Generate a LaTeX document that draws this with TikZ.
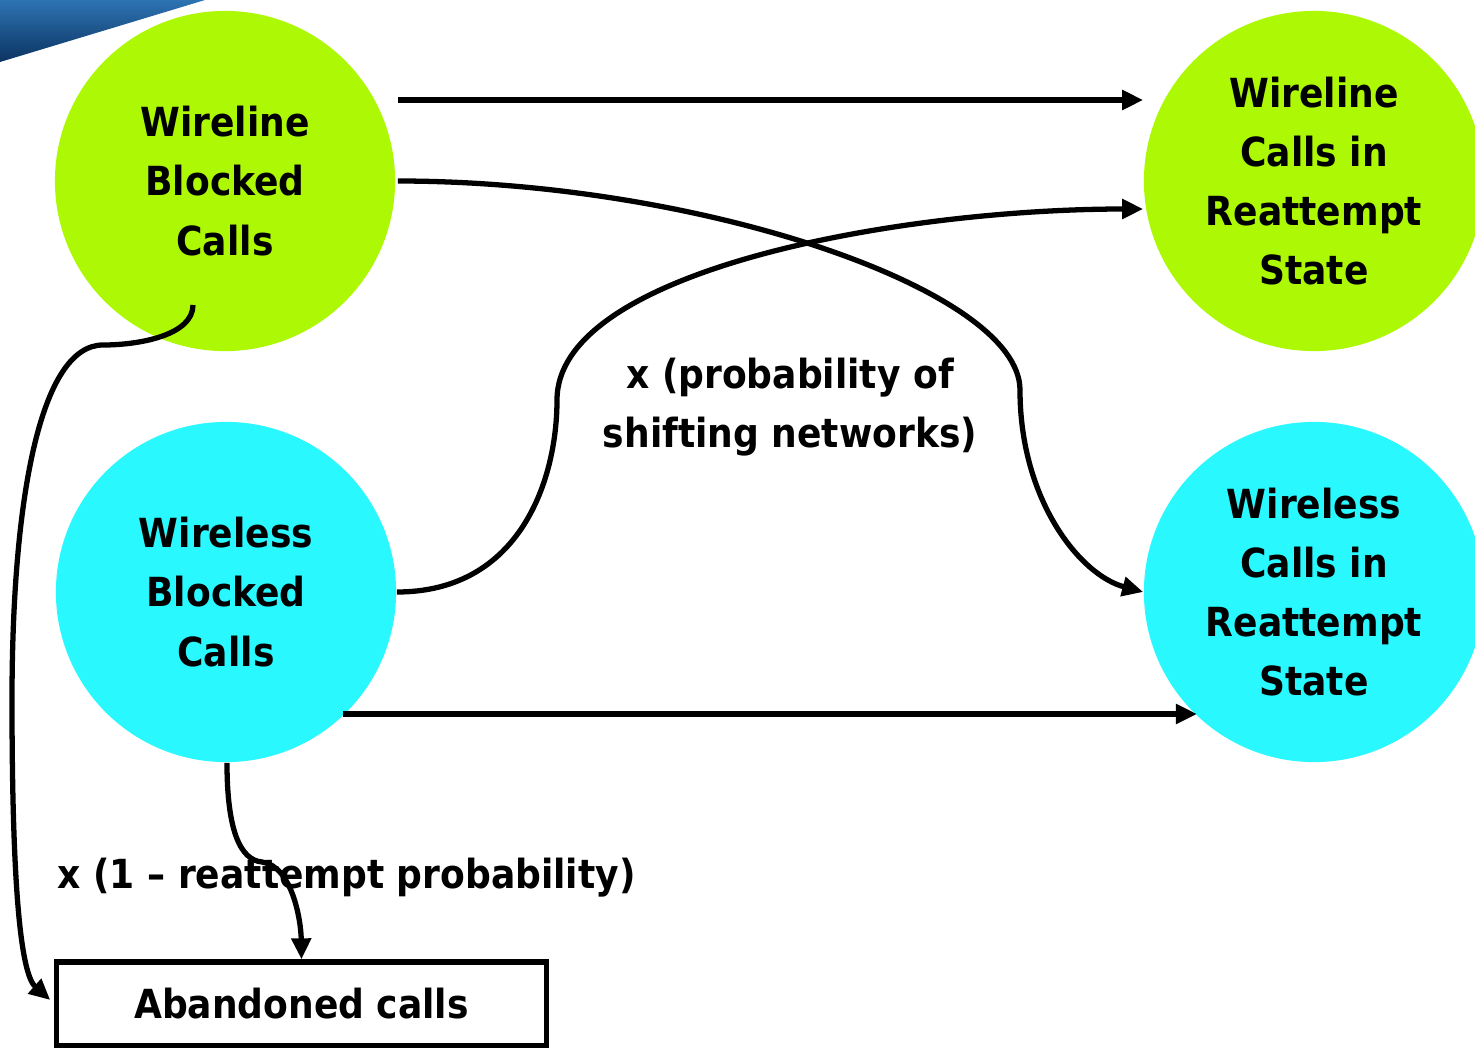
\documentclass[tikz,border=0pt]{standalone}
\usepackage{fontspec}
\setmainfont{DejaVu Sans Condensed}
\usetikzlibrary{arrows.meta,calc}
\definecolor{limeg}{RGB}{173,248,4}
\definecolor{aqua}{RGB}{42,248,255}
\definecolor{swtop}{RGB}{45,115,178}
\definecolor{swbot}{RGB}{12,52,98}
\begin{document}
\begin{tikzpicture}[x=0.01cm,y=-0.01cm,
  txt/.style={font=\bfseries\fontsize{11.4}{16.8}\selectfont},
  state/.style={txt, circle, minimum size=3.4cm, inner sep=0pt, align=center},
  wireline/.style={state, fill=limeg},
  wireless/.style={state, fill=aqua},
  flow/.style={line width=1.5pt, -{Triangle[length=0.21cm,width=0.19cm]}},
  lbl/.style={txt, inner sep=0pt}]
\useasboundingbox (0,0) rectangle (1475,1048);
\clip (0,0) rectangle (1475,1048);

% corner swoosh
\shade[top color=swtop, bottom color=swbot] (0,0) -- (205,0) -- (0,62) -- cycle;

% states
\node[wireline] (wb) at (225,181) {Wireline\\Blocked\\Calls};
\node[wireline] (wr) at (1314,181) {Wireline\\Calls in\\Reattempt\\State};
\node[wireless] (sb) at (226,592) {Wireless\\Blocked\\Calls};
\node[wireless] (sr) at (1314,592) {Wireless\\Calls in\\Reattempt\\State};
\node[txt, draw, line width=1.5pt, minimum width=4.89cm, minimum height=0.84cm] (ab) at (301.5,1004) {Abandoned calls};

% transition labels
\node[lbl, align=center] (lp) at (790,407) {x (probability of\\shifting networks)};
\node[lbl, anchor=west] (lr) at (57,878) {x (1 – reattempt probability)};

% transitions
\draw[flow] ($(wb.east)+(2,-81)$) -- ($(wr.west)+(0,-81)$);
\draw[flow] ($(wb.east)+(2,0)$) .. controls (700,181) and (1020,290) .. (1020,390)
  .. controls (1020,500) and (1080,575) .. (sr.west);
\draw[flow] (sb.east) .. controls (520,592) and (557,480) .. (557,400)
  .. controls (557,270) and (900,209) .. ($(wr.west)+(0,28)$);
\draw[flow] ($(sb.center)+(117,122)$) -- ($(sr.center)+(-117,122)$);
\draw[flow] ($(wb.center)+(-32,124)$) .. controls (193,335) and (140,345) .. (103,345)
  .. controls (40,345) and (12,500) .. (12,700)
  .. controls (12,900) and (22,975) .. ($(ab.west)+(-4,-4)$);
\draw[flow] ($(sb.south)+(1,0)$) .. controls (227,830) and (240,860) .. (262,862)
  .. controls (292,866) and (301,920) .. (ab.north);
\end{tikzpicture}
\end{document}
